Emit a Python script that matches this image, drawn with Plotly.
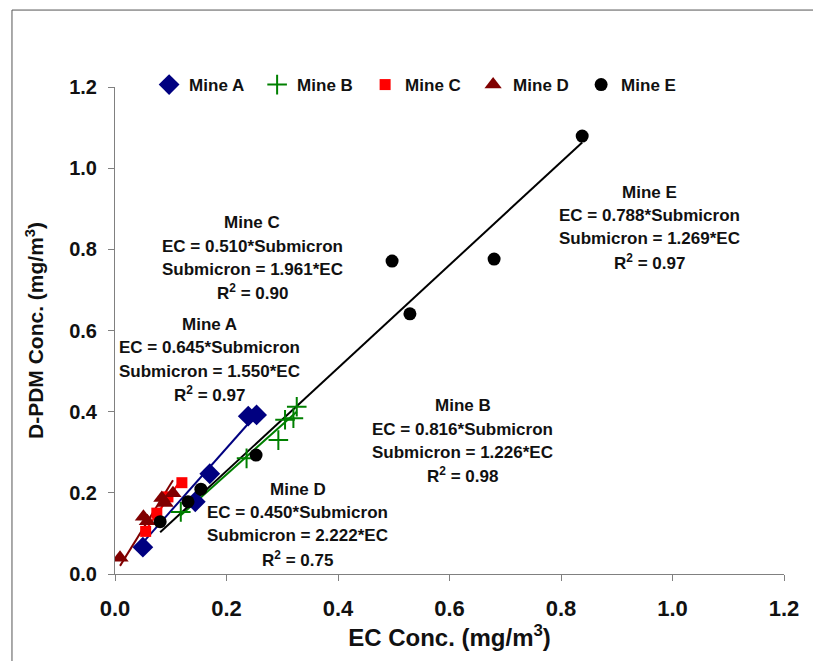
import plotly.graph_objects as go

# ---- data (EC conc. vs D-PDM conc., mg/m3) ----
mines = ["Mine A", "Mine B", "Mine C", "Mine D", "Mine E"]

a_ec = [0.050, 0.144, 0.170, 0.239, 0.254]
a_dpdm = [0.066, 0.178, 0.247, 0.389, 0.392]

b_ec = [0.118, 0.236, 0.293, 0.305, 0.320, 0.326]
b_dpdm = [0.153, 0.285, 0.330, 0.380, 0.384, 0.412]

c_ec = [0.055, 0.075, 0.095, 0.120]
c_dpdm = [0.105, 0.150, 0.190, 0.225]

d_ec = [0.009, 0.051, 0.058, 0.084, 0.090, 0.104]
d_dpdm = [0.040, 0.141, 0.130, 0.187, 0.175, 0.199]

e_ec = [0.081, 0.131, 0.154, 0.253, 0.497, 0.529, 0.680, 0.838]
e_dpdm = [0.129, 0.178, 0.209, 0.293, 0.771, 0.641, 0.776, 1.079]

# regression coefficients (Submicron = k*EC, EC = m*Submicron, R2)
sub_k = [1.550, 1.226, 1.961, 2.222, 1.269]
ec_m = [0.645, 0.816, 0.510, 0.450, 0.788]
r2 = [0.97, 0.98, 0.90, 0.75, 0.97]

xs = [a_ec, b_ec, c_ec, d_ec, e_ec]
ys = [a_dpdm, b_dpdm, c_dpdm, d_dpdm, e_dpdm]

colors = ["#000080", "#008000", "#FF0000", "#800000", "#000000"]
symbols = ["diamond", "cross-thin", "square", "triangle-up", "circle"]
sizes = [16, 14, 11, 15, 13]

fig = go.Figure()

# trend lines through the origin over each data range
for i in range(5):
    lo, hi = min(xs[i]), max(xs[i])
    fig.add_trace(go.Scatter(
        x=[lo, hi], y=[sub_k[i] * lo, sub_k[i] * hi], mode="lines",
        line=dict(color=colors[i], width=2), showlegend=False, hoverinfo="skip"))

for i in range(5):
    mk = dict(color=colors[i], symbol=symbols[i], size=sizes[i])
    if symbols[i] == "cross-thin":
        mk["line"] = dict(color=colors[i], width=2)
    fig.add_trace(go.Scatter(
        x=xs[i], y=ys[i], mode="markers", name=mines[i], marker=mk))

# equation annotations (centre x, y of title line, in data units)
ann_pos = {
    "Mine A": (0.170, 0.614),
    "Mine B": (0.624, 0.414),
    "Mine C": (0.246, 0.865),
    "Mine D": (0.328, 0.209),
    "Mine E": (0.958, 0.941),
}
dy = 0.0570
for i, m in enumerate(mines):
    cx, cy = ann_pos[m]
    lines = [m,
             f"EC = {ec_m[i]:.3f}*Submicron",
             f"Submicron = {sub_k[i]:.3f}*EC",
             f"R<sup>2</sup> = {r2[i]:.2f}"]
    for j, t in enumerate(lines):
        fig.add_annotation(x=cx, y=cy - j * dy, text=t, showarrow=False,
                           xanchor="center", yanchor="middle",
                           font=dict(family="Liberation Sans, Arial", size=17,
                                     color="#111111", weight="bold"))

# outer frame
fig.add_shape(type="rect", xref="paper", yref="paper",
              x0=-0.154, x1=1.08, y0=-0.25, y1=1.158,
              line=dict(color="#555555", width=1))

axis_common = dict(
    showgrid=False, zeroline=False, showline=True, linecolor="#808080",
    linewidth=1, ticks="outside", ticklen=6, tickcolor="#808080",
    range=[0, 1.2], dtick=0.2, tickformat=".1f")

fig.update_layout(
    width=821, height=661,
    margin=dict(l=107, r=45, t=79, b=95),
    paper_bgcolor="white", plot_bgcolor="white",
    xaxis=dict(**axis_common, ticklabelstandoff=9,
               title=dict(text="EC Conc. (mg/m<sup>3</sup>)", standoff=8,
                          font=dict(family="Liberation Sans Narrow, Liberation Sans", size=24,
                                    color="#111111", weight="bold")),
               tickfont=dict(family="Liberation Sans Narrow, Liberation Sans", size=22,
                             color="#111111", weight="bold")),
    yaxis=dict(**axis_common, ticklabelstandoff=7,
               title=dict(text="D-PDM Conc. (mg/m<sup>3</sup>)", standoff=19,
                          font=dict(family="Liberation Sans", size=21,
                                    color="#111111", weight="bold")),
               tickfont=dict(family="Liberation Sans", size=20,
                             color="#111111", weight="bold")),
    legend=dict(orientation="h", x=0.051, y=1.041, xanchor="left", yanchor="top",
                entrywidth=63, entrywidthmode="pixels",
                font=dict(family="Liberation Sans", size=17, color="#111111", weight="bold"),
                bgcolor="rgba(0,0,0,0)"),
    showlegend=True,
)

fig.write_html("out.html")
